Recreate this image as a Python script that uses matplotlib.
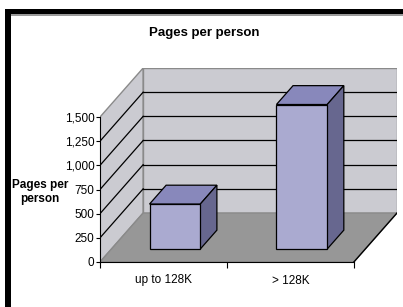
import matplotlib
matplotlib.use("Agg")
import matplotlib.pyplot as plt
from matplotlib.patches import Polygon, Rectangle
import matplotlib.ticker as mticker

plt.rcParams['font.family'] = ['Liberation Sans Narrow', 'Liberation Sans', 'DejaVu Sans']

categories = ["up to 128K", "> 128K"]
pages = [465, 1495]
yticks = [0, 250, 500, 750, 1000, 1250, 1500]
title = "Pages per person"
ylabel = "Pages per\nperson"

# oblique depth of the pseudo-3d box, in data units
DX = 0.34
DY = 507
YMAX = 1500
# bar depth position (fraction of box depth) and width
D0, D1 = 0.265, 0.65
BW = 0.4

wall = "#cbcbd1"
floor = "#979797"
edge = "#8a8a8a"
front = "#aaaad0"
top = "#8888bb"
side = "#67678f"

fig = plt.figure(figsize=(4.03, 3.07), dpi=100)
ax = fig.add_axes([100 / 403, 45 / 307, 297 / 403, 194 / 307])
ax.set_xlim(-0.5, 1.5 + DX)
ax.set_ylim(0, YMAX + DY)
ax.patch.set_visible(False)

x0, x1 = -0.5, len(categories) - 0.5

# walls and floor
ax.add_patch(Polygon([(x0, 0), (x0 + DX, DY), (x0 + DX, YMAX + DY), (x0, YMAX)],
                     closed=True, fc=wall, ec=edge, lw=1, zorder=1))
ax.add_patch(Polygon([(x0 + DX, DY), (x1 + DX, DY), (x1 + DX, YMAX + DY), (x0 + DX, YMAX + DY)],
                     closed=True, fc=wall, ec=edge, lw=1, zorder=1))
ax.add_patch(Polygon([(x0, 0), (x1, 0), (x1 + DX, DY), (x0 + DX, DY)],
                     closed=True, fc=floor, ec=edge, lw=1, zorder=1))
ax.plot([x1, x1 + DX], [0, DY], color="black", lw=1, zorder=2)

# gridlines on the walls
for v in yticks[1:-1]:
    ax.plot([x0 + DX, x1 + DX], [v + DY, v + DY], color="black", lw=0.9, zorder=2)
    ax.plot([x0, x0 + DX], [v, v + DY], color="black", lw=0.9, zorder=2)

# bars
for i, v in enumerate(pages):
    bx0 = i - BW / 2 + D0 * DX
    bx1 = bx0 + BW
    b0 = D0 * DY
    ddx = (D1 - D0) * DX
    ddy = (D1 - D0) * DY
    ax.bar(bx0, v, width=BW, bottom=b0, align="edge", color=front,
           edgecolor="black", lw=0.9, zorder=5)
    ax.add_patch(Polygon([(bx0, v + b0), (bx1, v + b0), (bx1 + ddx, v + b0 + ddy), (bx0 + ddx, v + b0 + ddy)],
                         closed=True, fc=top, ec="black", lw=0.9, zorder=4))
    ax.add_patch(Polygon([(bx1, b0), (bx1 + ddx, b0 + ddy), (bx1 + ddx, v + b0 + ddy), (bx1, v + b0)],
                         closed=True, fc=side, ec="black", lw=0.9, zorder=4))

# axes
for s in ["top", "right"]:
    ax.spines[s].set_visible(False)
ax.spines["left"].set_bounds(0, YMAX)
ax.spines["bottom"].set_bounds(x0, x1)
ax.spines["left"].set_zorder(6)
ax.spines["bottom"].set_zorder(6)
ax.set_yticks(yticks)
ax.yaxis.set_major_formatter(mticker.FuncFormatter(lambda v, p: "{:,}".format(int(v))))
ax.tick_params(axis="y", length=3, width=0.8, pad=1, labelsize=8.5)
ax.set_xticks(range(len(categories)))
ax.set_xticklabels(categories)
ax.set_xticks([x0, 0.5, x1], minor=True)
ax.tick_params(axis="x", which="major", length=0, pad=9, labelsize=8.5)
ax.tick_params(axis="x", which="minor", length=4, width=0.8)

ax.set_ylabel(ylabel, rotation=0, fontweight="bold", fontsize=8.5, ha="center", va="center",
              multialignment="center")
ax.yaxis.set_label_coords(-0.202, 0.36)

fig.text(204 / 403, 1 - 33 / 307, title, ha="center", va="center", fontweight="bold", fontsize=9.5)

# chart border (left and top only visible in the crop)
fig.add_artist(Rectangle((5 / 403, 0), 6 / 403, 1 - 9 / 307, transform=fig.transFigure,
                         fc="black", ec="none"))
fig.add_artist(Rectangle((5 / 403, 1 - 14 / 307), 1, 5 / 307, transform=fig.transFigure,
                         fc="black", ec="none"))
fig.add_artist(Rectangle((11 / 403, 1 - 15.5 / 307), 1, 1.5 / 307, transform=fig.transFigure,
                         fc="#9a9a9a", ec="none"))

fig.savefig("out.png", dpi=100)
